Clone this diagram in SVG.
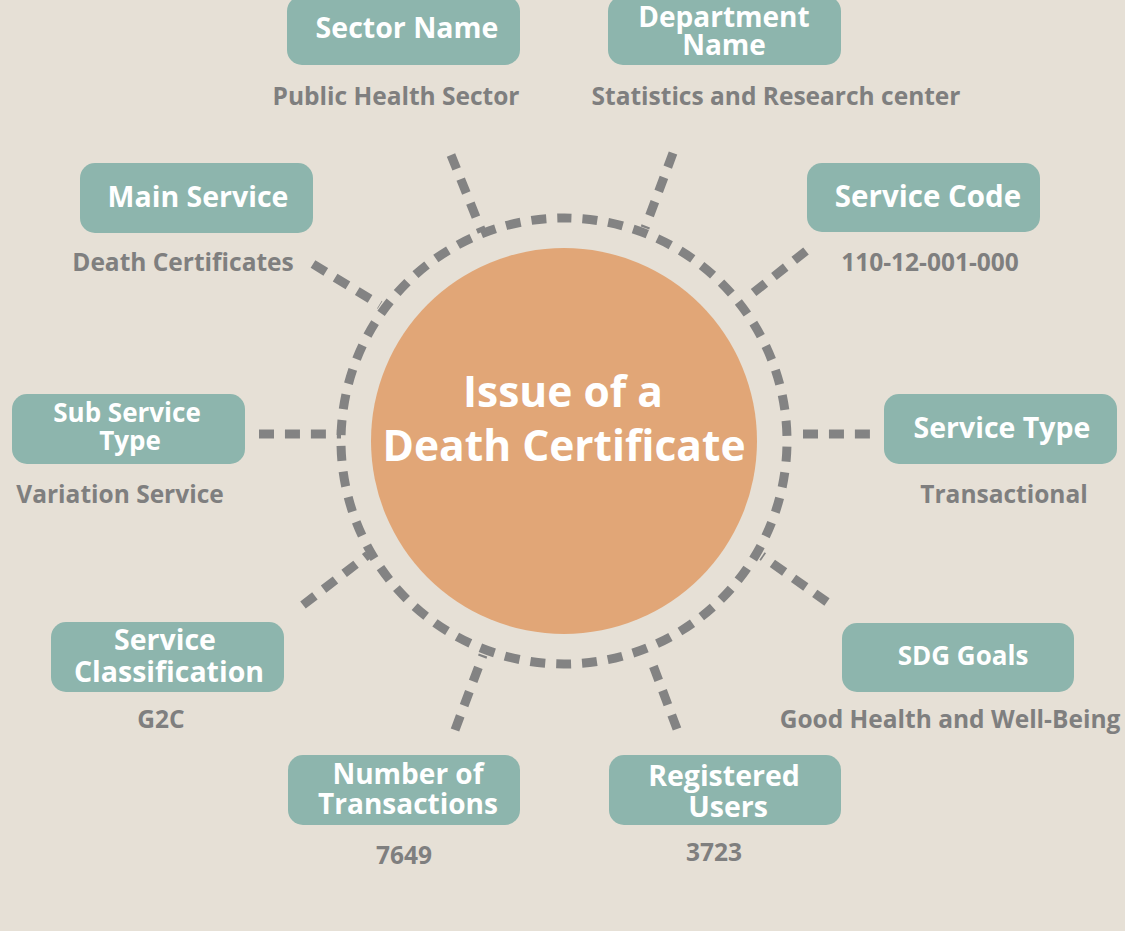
<svg xmlns="http://www.w3.org/2000/svg" width="1125" height="931" viewBox="0 0 1125 931">
<defs>
<style>
.box{fill:#8db5ad}
.bt{font-family:"Open Sans","Noto Sans","Liberation Sans",sans-serif;font-weight:700;fill:#ffffff;text-anchor:middle;font-size:28.5px}
.sub{font-family:"Open Sans","Noto Sans","Liberation Sans",sans-serif;font-weight:700;fill:#7f7f7f;text-anchor:middle;font-size:24.5px}
.dash{stroke:#838383;stroke-width:9;fill:none;stroke-dasharray:15 10.95}
.title{font-family:"Open Sans","Noto Sans","Liberation Sans",sans-serif;font-weight:700;fill:#ffffff;text-anchor:middle;font-size:42.5px}
</style>
</defs>
<rect width="1125" height="931" fill="#e6e0d6"/>
<g id="connectors">
<path class="dash" stroke-dashoffset="7.5" d="M564 218 A223 223 0 1 1 564 664 A223 223 0 1 1 564 218"/>
<line class="dash" x1="451" y1="155" x2="482" y2="232"/>
<line class="dash" x1="673" y1="153" x2="645" y2="228"/>
<line class="dash" x1="313" y1="264" x2="380" y2="305"/>
<line class="dash" x1="806" y1="251" x2="748" y2="297"/>
<line class="dash" x1="259" y1="434" x2="341" y2="434"/>
<line class="dash" x1="803" y1="434" x2="870" y2="434" stroke-dasharray="15 11"/>
<line class="dash" x1="303" y1="605" x2="368" y2="555"/>
<line class="dash" x1="827" y1="602" x2="762" y2="556"/>
<line class="dash" x1="455" y1="730" x2="483" y2="655"/>
<line class="dash" x1="677" y1="729" x2="651" y2="660"/>
</g>
<g id="center">
<circle cx="564" cy="441" r="193" fill="#e1a677"/>
<text class="title" x="563" y="407">Issue of a</text>
<text class="title" x="564" y="461">Death Certificate</text>
</g>
<g id="sector-name">
<rect class="box" x="287" y="-4" width="233" height="69" rx="15"/>
<text class="bt" x="407" y="38">Sector Name</text>
<text class="sub" x="396" y="105">Public Health Sector</text>
</g>
<g id="department-name">
<rect class="box" x="608" y="-4" width="233" height="69" rx="15"/>
<text class="bt" x="724" y="27" style="font-size:28px">Department</text>
<text class="bt" x="724" y="55" style="font-size:28px">Name</text>
<text class="sub" x="776" y="105">Statistics and Research center</text>
</g>
<g id="main-service">
<rect class="box" x="80" y="163" width="233" height="70" rx="15"/>
<text class="bt" x="198" y="207">Main Service</text>
<text class="sub" x="183" y="271">Death Certificates</text>
</g>
<g id="service-code">
<rect class="box" x="807" y="163" width="233" height="69" rx="15"/>
<text class="bt" x="928" y="207" style="font-size:29.5px">Service Code</text>
<text class="sub" x="930" y="271">110-12-001-000</text>
</g>
<g id="sub-service-type">
<rect class="box" x="12" y="394" width="233" height="70" rx="15"/>
<text class="bt" x="127" y="422" style="font-size:26px">Sub Service</text>
<text class="bt" x="130" y="450" style="font-size:26px">Type</text>
<text class="sub" x="120" y="503">Variation Service</text>
</g>
<g id="service-type">
<rect class="box" x="884" y="394" width="233" height="70" rx="15"/>
<text class="bt" x="1002" y="438">Service Type</text>
<text class="sub" x="1004" y="503">Transactional</text>
</g>
<g id="service-classification">
<rect class="box" x="51" y="622" width="233" height="70" rx="15"/>
<text class="bt" x="165" y="650">Service</text>
<text class="bt" x="169" y="682">Classification</text>
<text class="sub" x="161" y="728">G2C</text>
</g>
<g id="sdg-goals">
<rect class="box" x="842" y="623" width="232" height="69" rx="15"/>
<text class="bt" x="963" y="665" style="font-size:26px">SDG Goals</text>
<text class="sub" x="950" y="728">Good Health and Well-Being</text>
</g>
<g id="number-of-transactions">
<rect class="box" x="288" y="755" width="232" height="70" rx="15"/>
<text class="bt" x="408" y="784" style="font-size:28px">Number of</text>
<text class="bt" x="408" y="814" style="font-size:28px">Transactions</text>
<text class="sub" x="404" y="864">7649</text>
</g>
<g id="registered-users">
<rect class="box" x="609" y="755" width="232" height="70" rx="15"/>
<text class="bt" x="724" y="786">Registered</text>
<text class="bt" x="728" y="817">Users</text>
<text class="sub" x="714" y="861">3723</text>
</g>
</svg>
